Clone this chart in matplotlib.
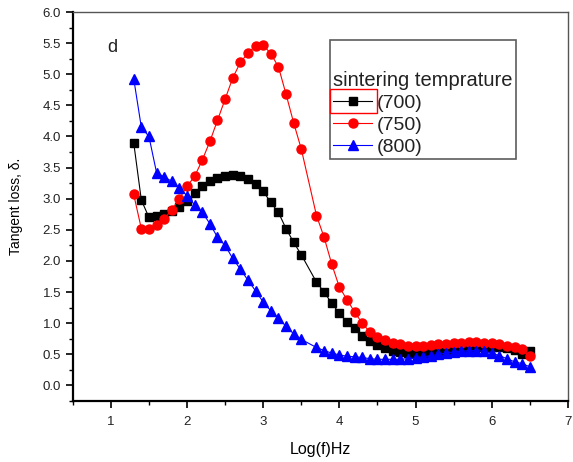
"""Tangent loss vs log frequency for three sintering temperatures (panel d)."""
import matplotlib
matplotlib.use("Agg")
import matplotlib.pyplot as plt
from matplotlib.patches import Rectangle
from matplotlib.ticker import MultipleLocator, FormatStrFormatter

plt.rcParams.update({"font.family": ["Liberation Sans", "DejaVu Sans"], "font.size": 9,
                     "text.color": "#222222", "xtick.labelcolor": "#222222",
                     "ytick.labelcolor": "#222222"})

logf = [1.3, 1.4, 1.5, 1.6, 1.7, 1.8, 1.9, 2.0, 2.1, 2.2, 2.3, 2.4, 2.5, 2.6,
        2.7, 2.8, 2.9, 3.0, 3.1, 3.2, 3.3, 3.4, 3.5,
        3.7, 3.8, 3.9, 4.0, 4.1, 4.2, 4.3, 4.4, 4.5, 4.6, 4.7, 4.8, 4.9, 5.0,
        5.1, 5.2, 5.3, 5.4, 5.5, 5.6, 5.7, 5.8, 5.9, 6.0, 6.1, 6.2, 6.3, 6.4, 6.5]

tan_700 = [3.90, 2.98, 2.70, 2.72, 2.75, 2.80, 2.86, 2.97, 3.10, 3.20, 3.28, 3.34,
           3.37, 3.38, 3.36, 3.32, 3.24, 3.12, 2.94, 2.78, 2.52, 2.30, 2.10,
           1.66, 1.50, 1.32, 1.16, 1.02, 0.92, 0.80, 0.72, 0.65, 0.60, 0.56, 0.53,
           0.52, 0.51, 0.51, 0.52, 0.53, 0.54, 0.56, 0.58, 0.60, 0.61, 0.62, 0.62,
           0.61, 0.60, 0.57, 0.50, 0.56]

tan_750 = [3.07, 2.52, 2.52, 2.57, 2.68, 2.82, 3.00, 3.20, 3.36, 3.62, 3.92, 4.26,
           4.60, 4.94, 5.19, 5.34, 5.46, 5.47, 5.33, 5.12, 4.68, 4.22, 3.80,
           2.73, 2.38, 1.95, 1.58, 1.38, 1.18, 1.00, 0.86, 0.78, 0.73, 0.69, 0.66,
           0.64, 0.63, 0.64, 0.65, 0.66, 0.67, 0.68, 0.69, 0.70, 0.70, 0.69, 0.68,
           0.66, 0.64, 0.61, 0.58, 0.47]

tan_800 = [4.93, 4.15, 4.00, 3.42, 3.35, 3.28, 3.17, 3.05, 2.90, 2.78, 2.60, 2.38,
           2.25, 2.04, 1.87, 1.69, 1.52, 1.34, 1.20, 1.08, 0.95, 0.83, 0.74,
           0.61, 0.56, 0.52, 0.49, 0.47, 0.46, 0.45, 0.43, 0.42, 0.42, 0.42, 0.42,
           0.43, 0.44, 0.46, 0.48, 0.50, 0.52, 0.54, 0.55, 0.56, 0.56, 0.55, 0.52,
           0.48, 0.43, 0.38, 0.35, 0.30]

fig = plt.figure(figsize=(5.73, 4.62), dpi=100)
ax = fig.add_axes([0.127, 0.132, 0.864, 0.842])

ax.plot(logf, tan_700, "s-", color="black", lw=0.8, ms=6, label="(700)")
ax.plot(logf, tan_750, "o-", color="red", lw=0.8, ms=6.5, label="(750)")
ax.plot(logf, tan_800, "^-", color="blue", lw=0.8, ms=7, label="(800)")

ax.set_xlim(0.5, 7)
ax.set_ylim(-0.25, 6.0)
ax.xaxis.set_major_locator(MultipleLocator(1))
ax.xaxis.set_minor_locator(MultipleLocator(0.5))
ax.yaxis.set_major_locator(MultipleLocator(0.5))
ax.yaxis.set_minor_locator(MultipleLocator(0.25))
ax.yaxis.set_major_formatter(FormatStrFormatter("%.1f"))
ax.tick_params(which="both", direction="out", top=False, right=False, labelsize=9.5)
ax.tick_params(which="major", length=5, width=1.2)
ax.tick_params(which="minor", length=3, width=1)
ax.xaxis.set_tick_params(pad=6)

for s in ("left", "bottom"):
    ax.spines[s].set_linewidth(1.6)
    ax.spines[s].set_color("black")
for s in ("top", "right"):
    ax.spines[s].set_linewidth(1.0)
    ax.spines[s].set_color("#555555")

ax.set_xlabel("Log(f)Hz", fontsize=11.5, labelpad=10)
ax.set_ylabel("Tangent loss, δ.", fontsize=10, labelpad=14)
ax.text(0.07, 0.93, "d", transform=ax.transAxes, fontsize=13, va="top")

leg = ax.legend(title="\nsintering temprature", loc="upper left",
                bbox_to_anchor=(0.52, 0.928), fontsize=14, title_fontsize=14.5,
                frameon=True, fancybox=False, edgecolor="#333333",
                handlelength=2.0, handletextpad=0.25, labelspacing=0.22,
                borderpad=0.15, borderaxespad=0)
leg.get_frame().set_linewidth(1.2)
leg.get_title().set_linespacing(1.6)
leg._legend_box.align = "left"

# Origin leaves a red selection box round the first legend handle
fig.canvas.draw()
bb = leg.legend_handles[0].get_window_extent(fig.canvas.get_renderer())
x0, y0 = fig.transFigure.inverted().transform((bb.x0 + 1, bb.y0 - 8))
x1, y1 = fig.transFigure.inverted().transform((bb.x1 + 1, bb.y1 + 8))
fig.patches.append(Rectangle((x0, y0), x1 - x0, y1 - y0, transform=fig.transFigure,
                             fill=False, edgecolor="red", lw=1.0, zorder=10))

fig.savefig("out.png", dpi=100)
